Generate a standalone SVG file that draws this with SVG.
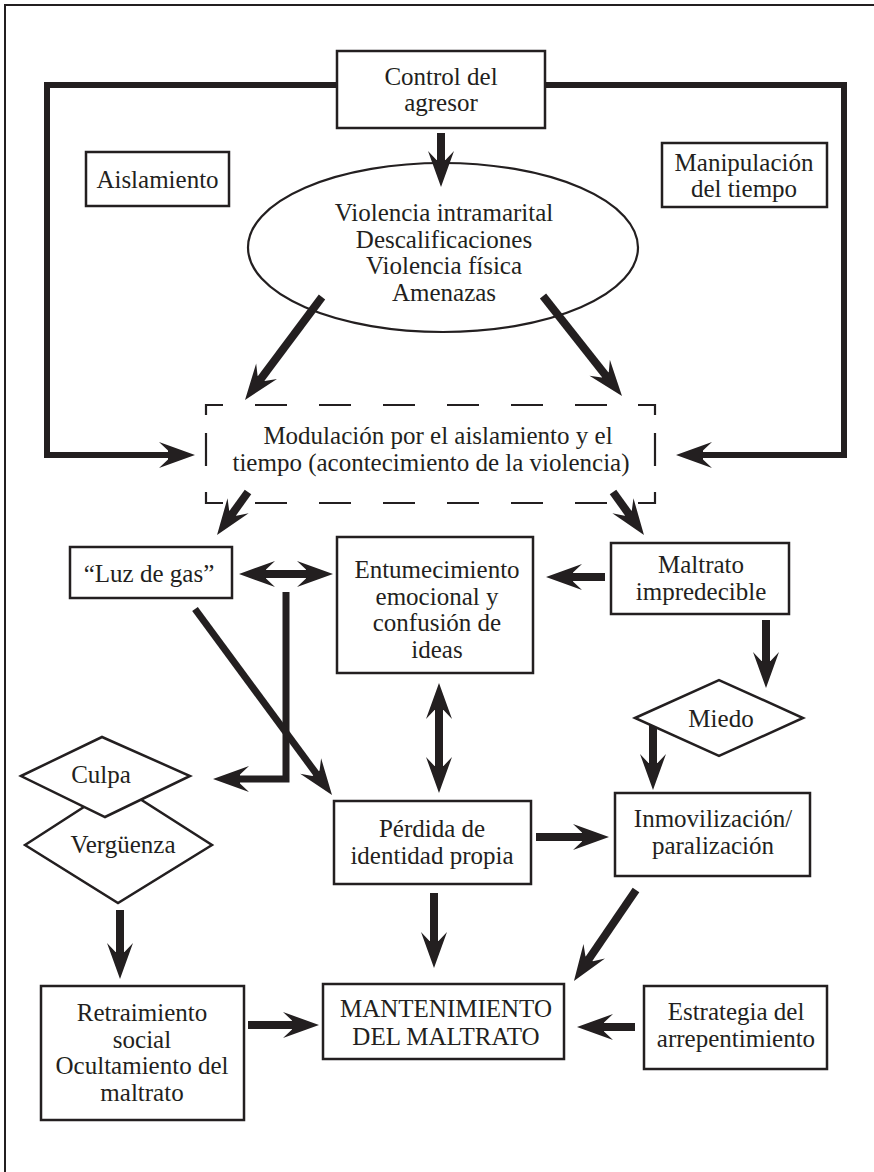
<svg xmlns="http://www.w3.org/2000/svg" width="874" height="1172" viewBox="0 0 874 1172">
<style>
.box{fill:#fff;stroke:#231f20;stroke-width:2.5}
.t{font-family:"Liberation Serif","Times New Roman",serif;font-size:25px;fill:#231f20;text-anchor:middle}
.c{fill:none;stroke:#231f20;stroke-width:8;stroke-linecap:butt;stroke-linejoin:miter}
.th{stroke-width:7}
.fr{fill:none;stroke:#231f20;stroke-width:6;stroke-linejoin:miter}
.dash{fill:none;stroke:#231f20;stroke-width:2.2}
</style>
<defs>
<marker id="ah" markerUnits="userSpaceOnUse" viewBox="-40 -16 44 32" markerWidth="44" markerHeight="32" refX="-15" refY="0" orient="auto-start-reverse" overflow="visible">
<path d="M0,0 L-36,-13 L-27,-4.5 L-27,4.5 L-36,13 Z" fill="#231f20"/>
</marker>
</defs>
<rect width="874" height="1172" fill="#fff"/>
<path d="M5,1172 V5 H874" fill="none" stroke="#231f20" stroke-width="2"/>

<g id="connectors">
<path class="fr" d="M337,85 H47 V455 H180" marker-end="url(#ah)"/>
<path class="fr" d="M545,85 H844 V455 H691" marker-end="url(#ah)"/>
<line class="c" x1="441" y1="133" x2="441" y2="172" marker-end="url(#ah)"/>
<line class="c" x1="322" y1="297" x2="254" y2="388" marker-end="url(#ah)"/>
<line class="c" x1="543" y1="296" x2="612.7" y2="384.2" marker-end="url(#ah)"/>
<line class="c" x1="248" y1="492" x2="225.8" y2="522.8" marker-end="url(#ah)"/>
<line class="c" x1="613" y1="492" x2="635.2" y2="522.8" marker-end="url(#ah)"/>
<line class="c" x1="254" y1="574" x2="318" y2="574" marker-start="url(#ah)" marker-end="url(#ah)"/>
<line class="c" x1="605" y1="577" x2="561" y2="577" marker-end="url(#ah)"/>
<path class="c th" d="M286,592 V779 H228" marker-end="url(#ah)"/>
<line class="c th" x1="195" y1="609" x2="323.1" y2="782.9" marker-end="url(#ah)"/>
<line class="c" x1="439" y1="698" x2="439" y2="778" marker-start="url(#ah)" marker-end="url(#ah)"/>
<line class="c" x1="766" y1="620" x2="766" y2="673" marker-end="url(#ah)"/>
<line class="c" x1="653" y1="722" x2="653" y2="775" marker-end="url(#ah)"/>
<line class="c" x1="536" y1="837" x2="594" y2="837" marker-end="url(#ah)"/>
<line class="c" x1="120" y1="910" x2="120" y2="964" marker-end="url(#ah)"/>
<line class="c" x1="434" y1="893" x2="434" y2="953" marker-end="url(#ah)"/>
<line class="c" x1="636" y1="890" x2="582.4" y2="968.6" marker-end="url(#ah)"/>
<line class="c" x1="248" y1="1025" x2="304" y2="1025" marker-end="url(#ah)"/>
<line class="c" x1="635" y1="1027" x2="592" y2="1027" marker-end="url(#ah)"/>
</g>

<g id="control">
<rect class="box" x="337" y="51" width="208" height="77"/>
<text class="t" x="441" y="85">Control del</text>
<text class="t" x="441" y="111">agresor</text>
</g>
<g id="aislamiento">
<rect class="box" x="86" y="152" width="143" height="54"/>
<text class="t" x="157.5" y="188">Aislamiento</text>
</g>
<g id="manipulacion">
<rect class="box" x="662" y="143" width="165" height="64"/>
<text class="t" x="744" y="171">Manipulación</text>
<text class="t" x="744" y="197">del tiempo</text>
</g>
<g id="violencia">
<ellipse cx="443" cy="247.5" rx="195" ry="84.5" fill="none" stroke="#231f20" stroke-width="2.2"/>
<text class="t" x="444" y="221">Violencia intramarital</text>
<text class="t" x="444" y="247.5">Descalificaciones</text>
<text class="t" x="444" y="274">Violencia física</text>
<text class="t" x="444" y="300.5">Amenazas</text>
</g>
<g id="modulacion">
<path class="dash" d="M223,405 H206 V415 M638,405 H655 V415 M206,492 V503 H223 M655,492 V503 H638
M255,405 H287 M319,405 H351 M383,405 H415 M447,405 H479 M511,405 H543 M575,405 H607
M255,503 H287 M319,503 H351 M383,503 H415 M447,503 H479 M511,503 H543 M575,503 H607
M206,433 V466 M655,433 V466"/>
<text class="t" x="438" y="444">Modulación por el aislamiento y el</text>
<text class="t" x="431" y="471">tiempo (acontecimiento de la violencia)</text>
</g>
<g id="luz">
<rect class="box" x="70" y="547" width="162" height="51"/>
<text class="t" x="149" y="582">“Luz de gas”</text>
</g>
<g id="entumecimiento">
<rect class="box" x="337" y="537" width="196" height="136"/>
<text class="t" x="437" y="578">Entumecimiento</text>
<text class="t" x="437" y="604.5">emocional y</text>
<text class="t" x="437" y="631">confusión de</text>
<text class="t" x="437" y="657.5">ideas</text>
</g>
<g id="maltrato">
<rect class="box" x="611" y="543" width="178" height="71"/>
<text class="t" x="701" y="573">Maltrato</text>
<text class="t" x="701" y="600">impredecible</text>
</g>
<g id="miedo">
<polygon class="box" points="635,718 719,680 803,718 719,756"/>
<text class="t" x="721" y="727">Miedo</text>
</g>
<g id="verguenza">
<polygon class="box" points="25,845 118,785 212,845 118,903"/>
<text class="t" x="123" y="853">Vergüenza</text>
</g>
<g id="culpa">
<polygon class="box" points="21,776 102,737 190,776 105,817"/>
<text class="t" x="101" y="783">Culpa</text>
</g>
<g id="perdida">
<rect class="box" x="334" y="801" width="197" height="83"/>
<text class="t" x="432" y="837">Pérdida de</text>
<text class="t" x="432" y="863.5">identidad propia</text>
</g>
<g id="inmovilizacion">
<rect class="box" x="615" y="793" width="195" height="83"/>
<text class="t" x="713" y="827">Inmovilización/</text>
<text class="t" x="713" y="853.5">paralización</text>
</g>
<g id="retraimiento">
<rect class="box" x="41" y="986" width="203" height="134"/>
<text class="t" x="142" y="1021">Retraimiento</text>
<text class="t" x="142" y="1047.5">social</text>
<text class="t" x="142" y="1074">Ocultamiento del</text>
<text class="t" x="142" y="1100.5">maltrato</text>
</g>
<g id="mantenimiento">
<rect class="box" x="323" y="984" width="241" height="75"/>
<text class="t" x="446" y="1017">MANTENIMIENTO</text>
<text class="t" x="446" y="1045">DEL MALTRATO</text>
</g>
<g id="estrategia">
<rect class="box" x="644" y="986" width="183" height="83"/>
<text class="t" x="736" y="1020">Estrategia del</text>
<text class="t" x="736" y="1046.5">arrepentimiento</text>
</g>
</svg>
